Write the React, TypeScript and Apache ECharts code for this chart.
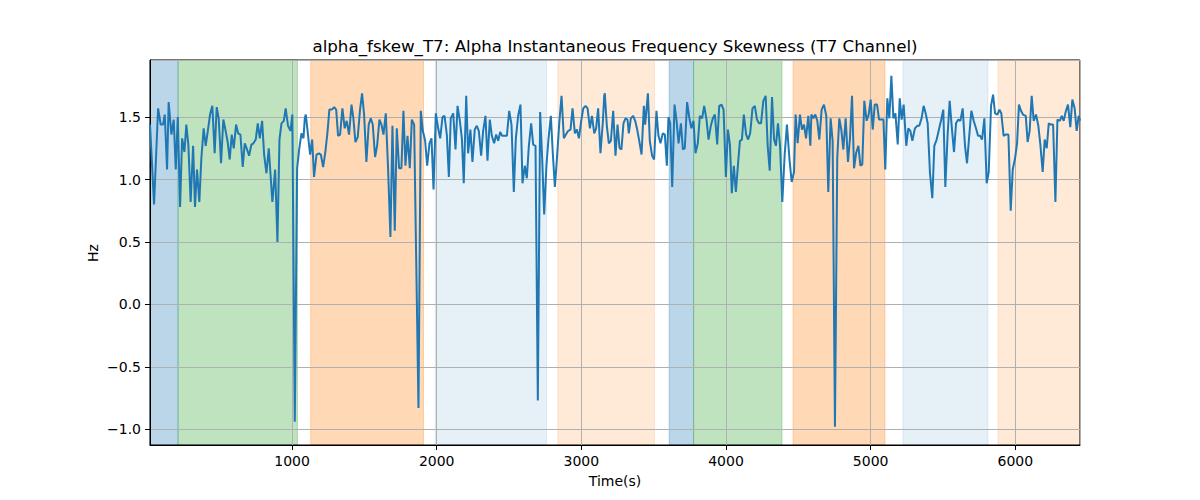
import { useEffect, useRef } from 'react'
import * as echarts from 'echarts'

const TITLE = 'alpha_fskew_T7: Alpha Instantaneous Frequency Skewness (T7 Channel)'

// sample times (s)
const times = [
  18, 46, 74, 92, 108, 120, 136, 147, 166, 182, 196, 210, 226, 240, 256, 269, 283, 299, 316, 329,
  343, 359, 373, 389, 403, 419, 433, 449, 465, 479, 493, 509, 525, 539, 555, 569, 583, 597, 613, 627,
  643, 659, 673, 689, 703, 719, 733, 749, 763, 777, 793, 807, 823, 839, 864, 883, 899, 913, 927, 943,
  956, 972, 989, 1002, 1019, 1035, 1049, 1065, 1079, 1088,
  1095, 1111, 1125, 1139, 1152, 1169, 1185, 1199, 1215, 1231, 1245, 1258, 1275, 1291, 1305, 1318, 1332, 1348, 1364, 1378,
  1394, 1411, 1424, 1438, 1454, 1470, 1484, 1498, 1514, 1530, 1544, 1558, 1574, 1588, 1604, 1618, 1632, 1648, 1664, 1680,
  1694, 1710, 1724, 1740, 1756, 1770, 1784, 1798, 1814, 1828, 1844, 1874, 1890, 1904, 1920, 1934, 1950, 1964, 1978, 1994,
  2010, 2024, 2040, 2054, 2070, 2084, 2097, 2114,
  2130, 2144, 2160, 2174, 2187, 2204, 2217, 2233, 2247, 2263, 2277, 2291, 2307, 2321, 2337, 2351, 2367, 2381, 2397, 2411,
  2425, 2439, 2452, 2466, 2485, 2501, 2517, 2533, 2547, 2563, 2579, 2593, 2609, 2623, 2637, 2653, 2667, 2683, 2699, 2715,
  2729, 2743, 2759, 2773, 2789, 2803, 2817, 2833, 2847, 2863, 2879, 2893, 2909, 2925, 2939, 2955, 2969, 2983, 2999, 3013,
  3029, 3043, 3059, 3073, 3089, 3102, 3116, 3132, 3149, 3158,
  3162, 3176, 3190, 3204, 3220, 3236, 3250, 3264, 3277, 3291, 3305, 3319, 3328, 3342, 3358, 3372, 3386, 3400, 3416, 3432,
  3441, 3460, 3473, 3489, 3503, 3519, 3533, 3547, 3563, 3577, 3591, 3602, 3614, 3628, 3644, 3658, 3672, 3688, 3702, 3715,
  3731, 3748, 3761, 3775, 3789, 3805, 3819, 3835, 3849, 3865, 3879, 3895, 3909, 3923, 3939, 3953, 3969, 3983, 3999, 4013,
  4027, 4040, 4054, 4068, 4082, 4096, 4110, 4123, 4139, 4153, 4167, 4183, 4199,
  4214, 4228, 4242, 4258, 4274, 4288, 4302, 4318, 4332, 4345, 4359, 4373, 4389, 4405, 4421, 4438, 4454, 4470, 4481, 4495,
  4511, 4525, 4539, 4553, 4569, 4583, 4590, 4604, 4617, 4631, 4645, 4661, 4677, 4693, 4707, 4723, 4737, 4753, 4769, 4783,
  4797, 4811, 4827, 4843, 4857, 4871, 4885, 4899, 4915, 4929, 4942, 4956, 4972, 4986, 5000, 5014, 5028, 5044, 5058, 5074,
  5088, 5101, 5115, 5129, 5143, 5157, 5171, 5187, 5201, 5214, 5228,
  5230, 5246, 5260, 5274, 5288, 5306, 5322, 5336, 5352, 5366, 5380, 5394, 5410, 5426, 5440, 5456, 5470, 5486, 5502, 5516,
  5532, 5546, 5562, 5576, 5590, 5606, 5620, 5636, 5652, 5666, 5682, 5696, 5712, 5728, 5742, 5756, 5770, 5786, 5802, 5816,
  5832, 5846, 5860, 5876, 5890, 5903, 5919, 5933, 5952, 5968, 5982, 5998, 6012, 6025, 6039, 6053, 6072, 6085, 6099, 6113,
  6127, 6143, 6159, 6173, 6189, 6203, 6217, 6231, 6244, 6261, 6277, 6291, 6307, 6321, 6334, 6350, 6364, 6380, 6394, 6410,
  6424, 6438, 6447,
]

// skewness values (Hz)
const skew = [
  1.44, 0.80, 1.57, 1.44, 1.44, 1.52, 1.08, 1.62, 1.36, 1.48, 1.08, 1.50, 0.78, 1.33, 1.22, 1.44, 1.28, 0.82, 1.27, 0.78,
  1.08, 0.82, 1.17, 1.41, 1.27, 1.40, 1.52, 1.59, 1.21, 1.58, 1.49, 1.13, 1.48, 1.40, 1.30, 1.16, 1.36, 1.25, 1.44, 1.37,
  1.36, 1.10, 1.29, 1.24, 1.19, 1.28, 1.29, 1.32, 1.45, 1.33, 1.47, 1.20, 1.05, 1.25, 0.82, 1.08, 0.50, 1.32, 1.45, 1.47,
  1.57, 1.43, 1.39, 1.52, -0.94, 1.09, 1.24, 1.37, 1.33, 1.49,
  1.52, 1.35, 1.20, 1.32, 1.02, 1.20, 1.21, 1.20, 1.10, 1.23, 1.38, 1.56, 1.56, 1.58, 1.56, 1.35, 1.36, 1.57, 1.41, 1.47,
  1.36, 1.60, 1.49, 1.30, 1.34, 1.56, 1.69, 1.52, 1.14, 1.44, 1.49, 1.44, 1.18, 1.27, 1.48, 1.44, 1.36, 1.53, 1.08, 0.54,
  1.43, 0.59, 1.41, 1.09, 1.09, 1.55, 1.11, 1.35, 1.09, 1.48, 1.44, -0.83, 1.55, 1.39, 1.31, 1.11, 1.29, 1.33, 0.92, 1.53,
  1.41, 1.33, 1.50, 1.51, 1.36, 1.02, 1.49, 1.53,
  1.24, 1.59, 1.47, 1.33, 0.97, 1.67, 1.21, 1.40, 1.14, 1.40, 1.43, 1.39, 1.19, 1.39, 1.51, 1.15, 1.48, 1.35, 1.29, 1.36,
  1.31, 1.38, 1.35, 1.35, 1.35, 1.55, 1.44, 0.90, 1.33, 1.51, 1.60, 0.97, 1.11, 1.01, 1.27, 1.45, 1.28, 1.27, -0.77, 1.54,
  1.17, 0.72, 1.12, 1.33, 1.51, 1.20, 0.94, 1.20, 1.45, 1.67, 1.33, 1.36, 1.39, 1.40, 1.57, 1.37, 1.40, 1.33, 1.47, 1.57,
  1.59, 1.57, 1.41, 1.51, 1.37, 1.41, 1.57, 1.21, 1.47, 1.67,
  1.69, 1.43, 1.29, 1.31, 1.55, 1.19, 1.44, 1.25, 1.24, 1.45, 1.49, 1.48, 1.37, 1.49, 1.51, 1.47, 1.40, 1.31, 1.20, 1.59,
  1.44, 1.69, 1.31, 1.19, 1.16, 1.55, 1.35, 1.29, 1.37, 1.36, 1.11, 1.50, 1.45, 0.94, 1.60, 1.47, 1.29, 1.45, 1.24, 1.25,
  1.62, 1.48, 1.41, 1.47, 1.21, 1.29, 1.51, 1.49, 1.59, 1.48, 1.32, 1.43, 1.49, 1.52, 1.28, 1.59, 1.60, 1.56, 1.02, 1.40,
  1.28, 0.89, 1.11, 0.90, 1.11, 1.31, 1.32, 1.52, 1.36, 1.32, 1.37, 1.57, 1.59,
  1.48, 1.45, 1.45, 1.63, 1.67, 1.27, 1.07, 1.66, 1.32, 1.27, 1.45, 1.28, 0.82, 1.19, 1.44, 1.17, 0.98, 1.06, 1.52, 1.29,
  1.52, 1.40, 1.44, 1.33, 1.51, 1.27, 1.52, 1.49, 1.52, 1.47, 1.32, 1.56, 1.60, 1.51, 0.90, 1.49, 1.31, -0.98, 1.17, 1.49,
  1.40, 1.24, 1.49, 1.14, 1.33, 1.67, 1.09, 1.21, 1.27, 1.11, 1.12, 1.63, 1.47, 1.52, 1.64, 1.40, 1.60, 1.60, 1.48, 1.48,
  1.48, 1.08, 1.65, 1.49, 1.83, 1.49, 1.53, 1.28, 1.65, 1.48, 1.60,
  1.60, 1.27, 1.41, 1.39, 1.31, 1.41, 1.43, 1.43, 1.49, 1.59, 1.53, 1.45, 1.05, 0.85, 1.27, 1.32, 1.39, 1.47, 1.56, 0.94,
  1.36, 1.63, 1.40, 1.22, 1.45, 1.48, 1.47, 1.57, 1.27, 1.13, 1.36, 1.55, 1.47, 1.41, 1.35, 1.35, 1.32, 1.49, 0.97, 1.06,
  1.59, 1.68, 1.53, 1.52, 1.56, 1.53, 1.35, 1.36, 1.36, 0.75, 1.08, 1.17, 1.29, 1.60, 1.55, 1.52, 1.51, 1.30, 1.39, 1.67,
  1.47, 1.52, 1.43, 1.28, 1.06, 1.32, 1.25, 1.45, 1.44, 1.44, 0.82, 1.48, 1.47, 1.51, 1.47, 1.55, 1.60, 1.42, 1.64, 1.57,
  1.39, 1.51, 1.47,
]

// shaded stage spans
const spanStarts = [18, 212, 1129, 1989, 2837, 3607, 3776, 4463, 5223, 5880]
const spanEnds = [212, 1037, 1909, 2759, 3505, 3776, 4387, 5099, 5811, 6447]
const spanColors = [
  'rgba(31,119,180,0.3)',
  'rgba(44,160,44,0.3)',
  'rgba(255,127,14,0.3)',
  'rgba(31,119,180,0.11)',
  'rgba(255,127,14,0.16)',
  'rgba(31,119,180,0.3)',
  'rgba(44,160,44,0.3)',
  'rgba(255,127,14,0.3)',
  'rgba(31,119,180,0.11)',
  'rgba(255,127,14,0.16)',
]

const X_MIN = 18
const X_MAX = 6447
const Y_MIN = -1.126
const Y_MAX = 1.957

const FONT = 'DejaVu Sans'

export default function App() {
  const chartRef = useRef<HTMLDivElement>(null)

  useEffect(() => {
    document.body.style.margin = '0'
    if (!chartRef.current) return
    const chart = echarts.init(chartRef.current, undefined, { renderer: 'svg' })

    const points = times.map((t, i) => [t, skew[i]])
    const areas = spanStarts.map((s, i) => [
      {
        xAxis: s,
        itemStyle: { color: spanColors[i], borderColor: spanColors[i], borderWidth: 1 },
      },
      { xAxis: spanEnds[i] },
    ])

    const axisCommon = {
      z: 1,
      axisLine: { show: true, onZero: false, lineStyle: { color: '#000', width: 1 } },
      axisTick: { show: true, length: 5, lineStyle: { color: '#000', width: 1 } },
      axisLabel: {
        color: '#000',
        fontFamily: FONT,
        fontSize: 14,
        showMinLabel: false,
        showMaxLabel: false,
      },
      splitLine: { show: true, lineStyle: { color: '#b0b0b0', width: 1 } },
    }

    chart.setOption({
      animation: false,
      backgroundColor: '#fff',
      grid: { left: 150, right: 120, top: 60, bottom: 55, show: true, borderColor: '#000', borderWidth: 1, z: 1 },
      xAxis: {
        type: 'value',
        min: X_MIN,
        max: X_MAX,
        splitNumber: 6,
        ...axisCommon,
        axisLabel: { ...axisCommon.axisLabel, margin: 9, formatter: (v: number) => String(v) },
      },
      yAxis: {
        type: 'value',
        min: Y_MIN,
        max: Y_MAX,
        splitNumber: 5,
        ...axisCommon,
        axisLabel: {
          ...axisCommon.axisLabel,
          margin: 9,
          formatter: (v: number) => v.toFixed(1).replace('-', '\u2212'),
        },
      },
      graphic: [
        {
          type: 'text',
          x: 615,
          y: 46,
          style: {
            text: TITLE,
            fill: '#000',
            font: `16.7px "${FONT}"`,
            textAlign: 'center',
            textVerticalAlign: 'middle',
          },
        },
        {
          type: 'text',
          x: 615,
          y: 481,
          style: {
            text: 'Time(s)',
            fill: '#000',
            font: `14px "${FONT}"`,
            textAlign: 'center',
            textVerticalAlign: 'middle',
          },
        },
        {
          type: 'text',
          x: 93,
          y: 253,
          rotation: Math.PI / 2,
          style: {
            text: 'Hz',
            fill: '#000',
            font: `14px "${FONT}"`,
            textAlign: 'center',
            textVerticalAlign: 'middle',
          },
        },
      ],
      series: [
        {
          type: 'line',
          data: points,
          showSymbol: false,
          symbol: 'none',
          lineStyle: { color: '#1f77b4', width: 2 },
          z: 3,
          // spans sit under the grid lines
          markArea: { silent: true, z: 0.5, data: areas },
        },
      ],
    })

    return () => {
      chart.dispose()
    }
  }, [])

  return <div ref={chartRef} style={{ width: '1200px', height: '500px' }} />
}
